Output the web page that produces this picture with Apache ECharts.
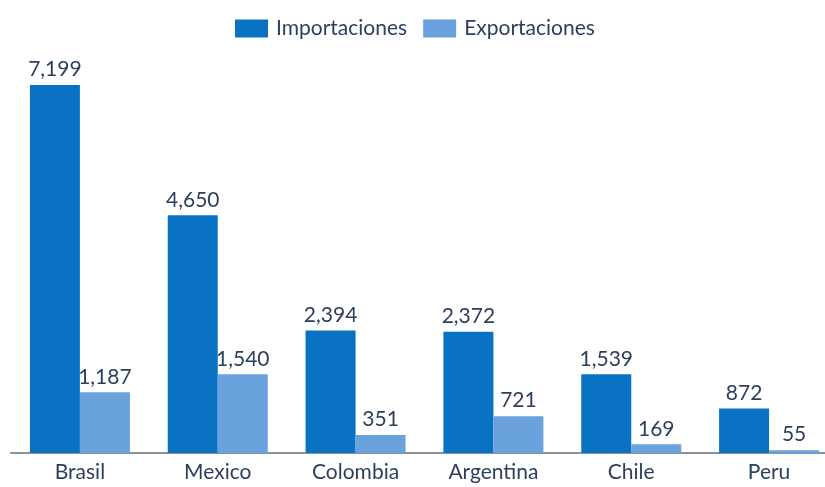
<!DOCTYPE html>
<html>
<head>
<meta charset="utf-8">
<script src="https://cdn.jsdelivr.net/npm/echarts@6/dist/echarts.min.js"></script>
<style>html,body{margin:0;padding:0;background:#fff}#c{width:825px;height:487px}</style>
</head>
<body>
<div id="c"></div>
<script>
const categories = ['Brasil', 'Mexico', 'Colombia', 'Argentina', 'Chile', 'Peru'];
const importaciones = [7199, 4650, 2394, 2372, 1539, 872];
const exportaciones = [1187, 1540, 351, 721, 169, 55];

const chart = echarts.init(document.getElementById('c'));
const fmt = p => p.value.toLocaleString('en-US');
const txt = '#2b3f5e';
const labelStyle = {
  show: true, position: 'top', distance: 5, formatter: fmt,
  color: txt, fontSize: 21, fontFamily: 'Lato'
};
chart.setOption({
  animation: false,
  legend: {
    top: 13, left: 230,
    itemWidth: 33, itemHeight: 18, itemGap: 16,
    textStyle: { color: txt, fontSize: 21, fontFamily: 'Lato', padding: [0, 0, 0, 3] },
    icon: 'rect',
    data: ['Importaciones', 'Exportaciones']
  },
  grid: { left: 11, top: 44, width: 827, height: 409, outerBoundsMode: 'none', containLabel: false },
  xAxis: {
    type: 'category', data: categories,
    axisLine: { lineStyle: { color: '#8c9299', width: 2 } },
    axisTick: { show: false },
    axisLabel: { color: txt, fontSize: 21, fontFamily: 'Lato', margin: 9 }
  },
  yAxis: { type: 'value', min: 0, max: 8000, show: false, splitLine: { show: false } },
  series: [
    { name: 'Importaciones', type: 'bar', data: importaciones, barWidth: 50, barGap: '0%',
      itemStyle: { color: '#0a72c2' }, label: labelStyle },
    { name: 'Exportaciones', type: 'bar', data: exportaciones, barWidth: 50, barGap: '0%',
      itemStyle: { color: '#69a2dc' }, label: labelStyle }
  ]
});
</script>
</body>
</html>
